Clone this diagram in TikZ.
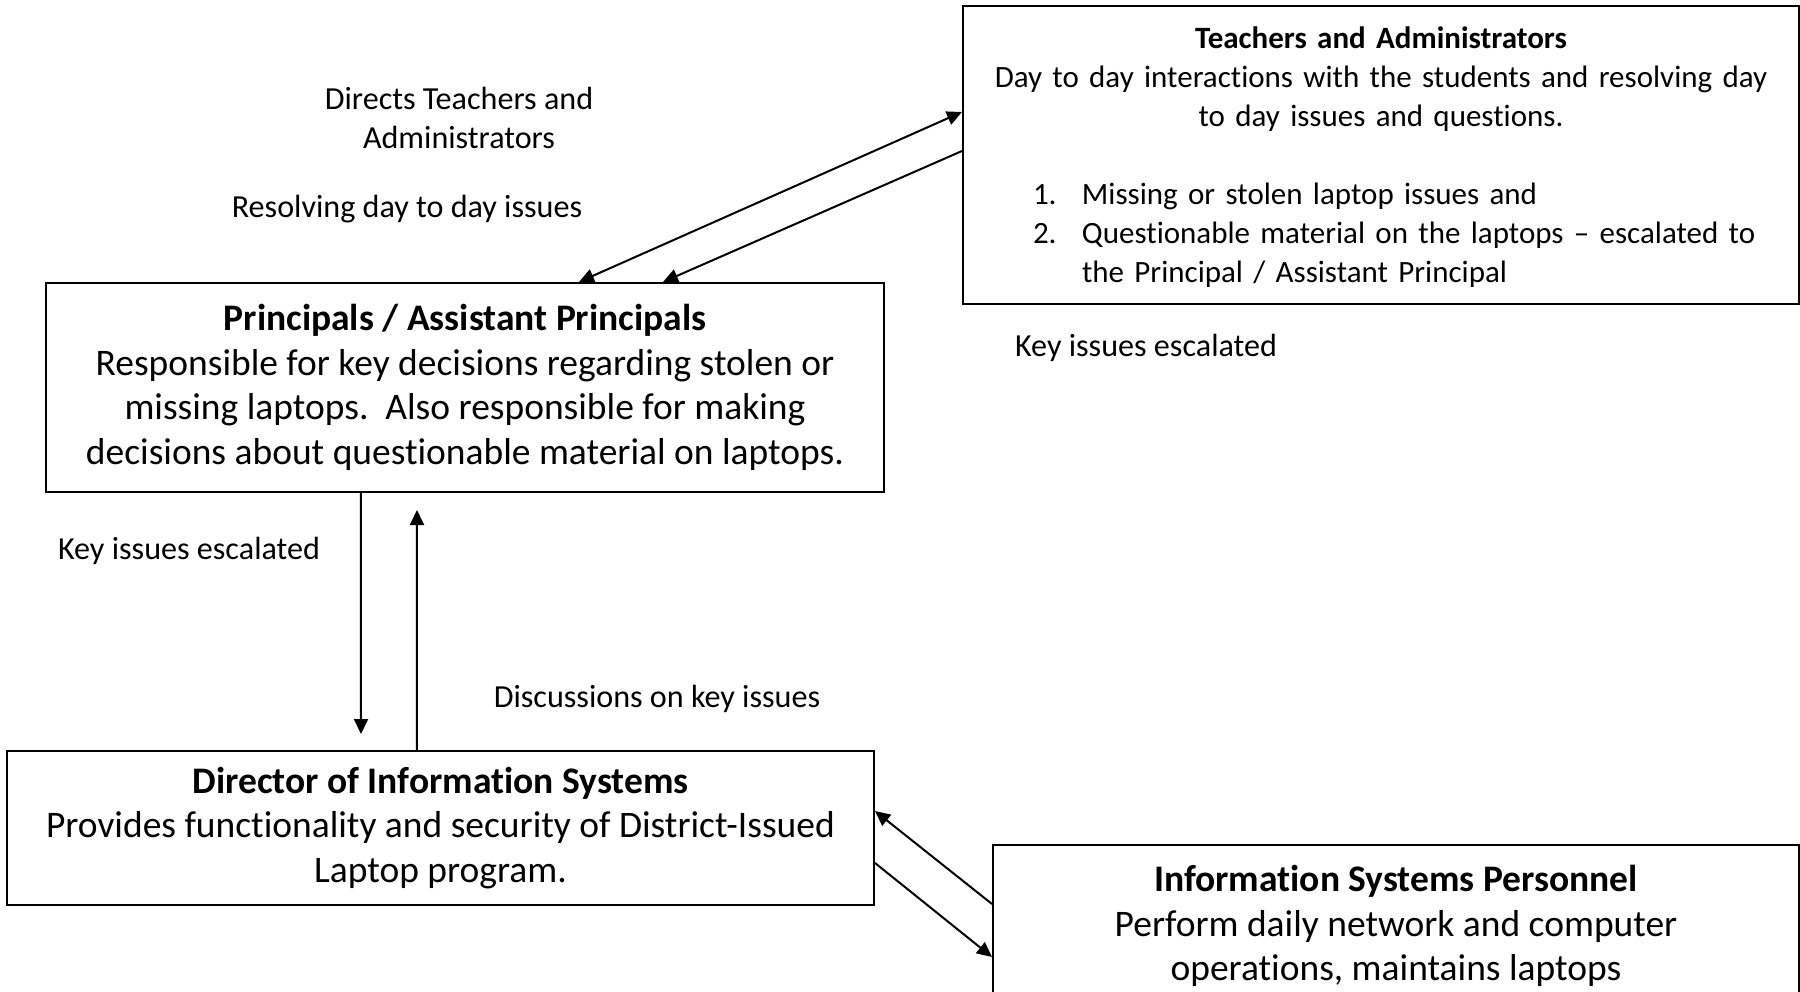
\documentclass[tikz,border=0pt]{standalone}
\usepackage{fontspec}
\setmainfont{Carlito}[Ligatures={TeX,NoCommon}]
\usetikzlibrary{arrows.meta,calc}

\begin{document}
\begin{tikzpicture}[x=0.4pt,y=-0.4pt,
	box/.style={draw,line width=0.8pt,inner sep=0pt,align=center},
	big/.style={font=\fontsize{15}{17.8}\selectfont},
	small/.style={font=\fontsize{12.4}{15.6}\selectfont},
	lbl/.style={font=\fontsize{12.85}{15.4}\selectfont},
	link/.style={line width=0.8pt,-{Triangle[length=6pt,width=5.6pt]}}]
	\clip (0,0) rectangle (1800,992);
	% the four boxes
	\node[box,small,minimum width=334.4pt,minimum height=119.2pt,text width=334.4pt] (ta) at (1381,155) {\rule{0pt}{13pt}\textbf{Teachers and Administrators}\\Day to day interactions with the students and resolving day\\to day issues and questions.\\[15.6pt]
		\makebox[334.4pt][l]{\hspace{28pt}\begin{tabular}[t]{@{}p{19.6pt}@{}l@{}}1.&Missing or stolen laptop issues and\\2.&Questionable material on the laptops -- escalated to\\&the Principal / Assistant Principal\end{tabular}}};
	\node[box,big,minimum width=335.2pt,minimum height=83.6pt] (pa) at (465,387.5) {\textbf{Principals / Assistant Principals}\\Responsible for key decisions regarding stolen or\\missing laptops.\ \ Also responsible for making\\decisions about questionable material on laptops.};
	\node[box,big,minimum width=346.8pt,minimum height=61.6pt] (dis) at (440.5,828) {\textbf{Director of Information Systems}\\Provides functionality and security of District-Issued\\Laptop program.};
	\node[box,big,minimum width=322.4pt,minimum height=64.8pt] (isp) at (1396,926) {\textbf{Information Systems Personnel}\\Perform daily network and computer\\operations, maintains laptops};
	% labels
	\node[lbl,align=center] (dirl) at (459,118) {Directs Teachers and\\Administrators};
	\node[lbl] (resl) at (407,209) {Resolving day to day issues};
	\node[lbl] (keyr) at (1146,348) {Key issues escalated};
	\node[lbl] (keyl) at (189,551) {Key issues escalated};
	\node[lbl] (disl) at (657,699) {Discussions on key issues};
	% connectors
	\draw[link,{Triangle[length=6pt,width=5.6pt]}-{Triangle[length=6pt,width=5.6pt]}] ($(pa.north west)+(534,0)$) -- ($(ta.north west)+(0,107)$);
	\draw[link] ($(ta.north west)+(0,146)$) -- ($(pa.north west)+(618,0)$);
	\draw[link] ($(pa.south west)+(316,0)$) -- ($(dis.north west)+(355,-16)$);
	\draw[link] ($(dis.north west)+(411,0)$) -- ($(pa.south west)+(372,17)$);
	\draw[link] ($(isp.north west)+(0,60)$) -- ($(dis.north east)+(0,61)$);
	\draw[link] ($(dis.north east)+(0,113)$) -- ($(isp.north west)+(0,113)$);
\end{tikzpicture}
\end{document}
